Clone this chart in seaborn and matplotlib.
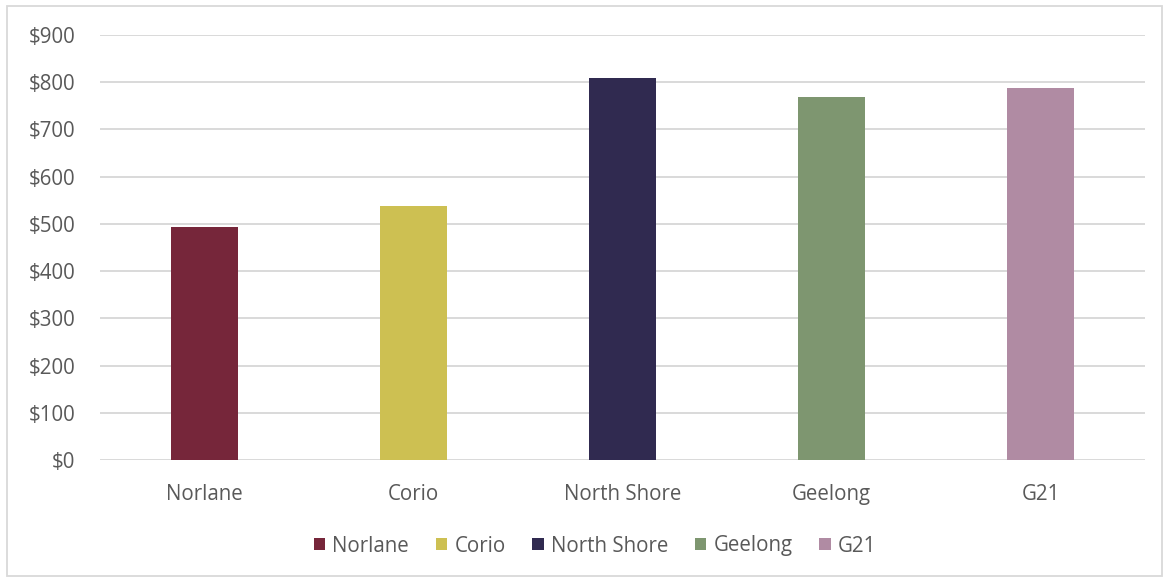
import matplotlib
matplotlib.use("Agg")
import matplotlib.pyplot as plt
from matplotlib.patches import Patch, Rectangle
import seaborn as sns
import pandas as pd

areas = ["Norlane", "Corio", "North Shore", "Geelong", "G21"]
weekly_income = [494, 538, 809, 768, 787]
bar_colors = ["#76263A", "#CDC052", "#302A50", "#7E9670", "#B08BA3"]
y_ticks = [0, 100, 200, 300, 400, 500, 600, 700, 800, 900]

sns.set_theme(style="white")
plt.rcParams["font.family"] = ["Open Sans", "DejaVu Sans"]
text_color = "#595959"
grid_color = "#D9D9D9"
fs = 14.8

df = pd.DataFrame({"area": areas, "income": weekly_income})

W, H = 1169, 578
fig = plt.figure(figsize=(W / 100, H / 100), dpi=100)
ax = fig.add_axes([100 / W, 1 - 460 / H, 1045 / W, 425 / H])

sns.barplot(data=df, x="area", y="income", hue="area", order=areas,
            hue_order=areas, palette=bar_colors, width=0.316, dodge=False,
            legend=False, ax=ax, saturation=1, edgecolor="none", zorder=3)

ax.set_ylim(0, 900)
ax.set_xlim(-0.5, len(areas) - 0.5)
ax.set_yticks(y_ticks)
ax.set_yticklabels([f"${v}" for v in y_ticks])
for v in y_ticks:
    ax.axhline(v, color=grid_color, lw=1.4, zorder=1)
for s in ax.spines.values():
    s.set_visible(False)
ax.set_xlabel("")
ax.set_ylabel("")
ax.tick_params(axis="y", length=0, pad=18, labelsize=fs, labelcolor=text_color)
ax.tick_params(axis="x", length=0, pad=17, labelsize=fs, labelcolor=text_color)

handles = [Patch(facecolor=c, edgecolor="none", label=a) for a, c in zip(areas, bar_colors)]
fig.legend(handles=handles, loc="center", bbox_to_anchor=(595 / W, 1 - 546 / H),
           ncol=len(areas), frameon=False, fontsize=fs, labelcolor=text_color,
           handlelength=0.55, handleheight=0.55, handletextpad=0.35,
           columnspacing=1.3)

# light chart-area border
fig.patches.append(Rectangle((7 / W, 2 / H), (W - 14) / W, (H - 8) / H,
                             transform=fig.transFigure, fill=False,
                             edgecolor="#D9D9D9", lw=1.3))

fig.savefig("out.png", dpi=100, facecolor="white")
